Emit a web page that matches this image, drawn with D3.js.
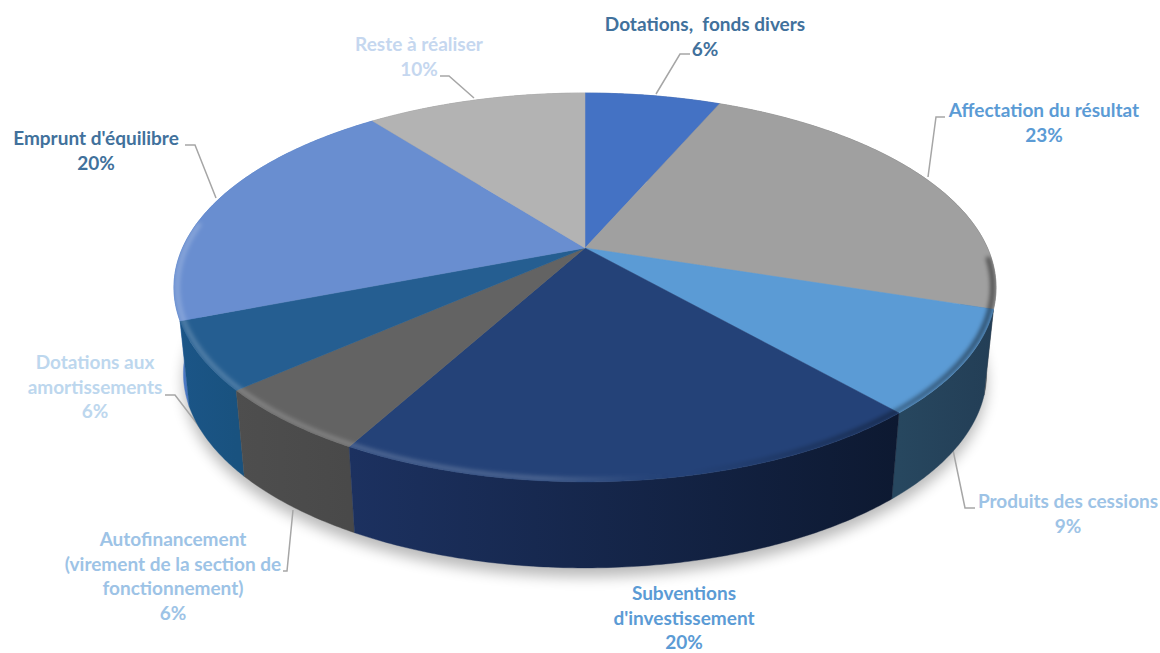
<!DOCTYPE html>
<html><head><meta charset="utf-8">
<script src="https://cdn.jsdelivr.net/npm/d3@7"></script>
<style>html,body{margin:0;padding:0;background:#fff}svg{display:block}</style>
</head><body><div id="c"></div>
<script>
// Data (slices start at 12 o'clock, clockwise)
const categories = [
  ["Dotations,  fonds divers"],
  ["Affectation du résultat"],
  ["Produits des cessions"],
  ["Subventions", "d'investissement"],
  ["Autofinancement", "(virement de la section de", "fonctionnement)"],
  ["Dotations aux", "amortissements"],
  ["Emprunt d'équilibre"],
  ["Reste à réaliser"]
];
const values = [6.49, 23.49, 8.52, 19.5, 5.5, 5.6, 20.41, 10.49];
const shownPercent = [6, 23, 9, 20, 6, 6, 20, 10];

// Styles
const topColors  = ["#4472c4","#a0a0a0","#5b9bd5","#244278","#636363","#255e91","#698ed0","#b3b3b3"];
const sideLeft   = ["#2f5597","#777777","#27475f","#1c3160","#4e4e4e","#1b5587","#4a78c4","#888888"];
const sideRight  = ["#2f5597","#555555","#233e56","#0d1931","#494949","#19527f","#3f6cb8","#888888"];
const textColors = ["#41719c","#5b9bd5","#9dc3e6","#5b9bd5","#9dc3e6","#bdd7ee","#41719c","#c5d7ef"];

// Label layout: [centre x, first baseline y], leader polyline
const labelAt = [[705,31],[1044,117],[1068,508],[684,600],[173,546],[95,369],[96,145],[419,51]];
const leaders = [
  [[690,54],[680,54],[656,94]],
  [[945,117],[936,117],[928,177]],
  [[975,508],[965,508],[953,450]],
  null,
  [[293,510],[287,571],[283,571]],
  [[165,395],[175,395],[211,442]],
  [[185,145],[195,145],[216,198]],
  [[440,76],[449,76],[474,98]]
];

const W = 1160, H = 653;
const cx = 585, R = 402.5, persp = -0.203, yScale = 136.1, cy = 248;
const depth = 86, shrink = 0.977, lineH = 24.6;

// circle -> screen through a perspective mapping
function proj(a, r = 1) {
  const u = Math.sin(a) * r, v = -Math.cos(a) * r, d = 1 + persp * v;
  return [cx + R * u / d, (yScale * v + cy) / d];
}
function projBottom(a) {
  const p = proj(a);
  return [cx + shrink * (p[0] - cx), p[1] + depth];
}
const pie = d3.pie().sort(null).value(d => d)(values);
const line = d3.line();
const samples = (a0, a1, step = 0.01) => {
  const n = Math.max(2, Math.ceil((a1 - a0) / step));
  return d3.range(n + 1).map(i => a0 + (a1 - a0) * i / n);
};
const TAU = Math.PI * 2;

const svg = d3.select("#c").append("svg").attr("width", W).attr("height", H).attr("viewBox", `0 0 ${W} ${H}`);
const defs = svg.append("defs");
const blur = (id, s) => defs.append("filter").attr("id", id)
  .attr("x", "-10%").attr("y", "-20%").attr("width", "120%").attr("height", "140%")
  .append("feGaussianBlur").attr("stdDeviation", s);
blur("bShadow", 7); blur("bBevel", 2);

svg.append("rect").attr("width", W).attr("height", H).attr("fill", "#fff");

const all = samples(0, TAU);
// cast shadow
svg.append("path")
  .attr("d", line(all.map(a => { const p = projBottom(a); return [p[0], p[1] + 9]; })) + "Z")
  .attr("fill", "#000").attr("opacity", 0.27).attr("filter", "url(#bShadow)");

// leader lines (the pie body sits over their far ends)
svg.append("g").selectAll("path").data(leaders.filter(Boolean)).join("path")
  .attr("d", d => line(d)).attr("fill", "none").attr("stroke", "#a6a6a6").attr("stroke-width", 1.5);

// side walls
const order = d3.range(pie.length).sort((a, b) =>
  proj((pie[a].startAngle + pie[a].endAngle) / 2)[1] - proj((pie[b].startAngle + pie[b].endAngle) / 2)[1]);
order.forEach(i => {
  const s = pie[i], as = samples(s.startAngle, s.endAngle);
  const top = as.map(a => proj(a)), bot = as.map(a => projBottom(a)).reverse();
  const xs = top.map(p => p[0]);
  const gid = "side" + i;
  const g = defs.append("linearGradient").attr("id", gid).attr("gradientUnits", "userSpaceOnUse")
    .attr("x1", d3.min(xs)).attr("x2", d3.max(xs)).attr("y1", 0).attr("y2", 0);
  g.append("stop").attr("offset", 0).attr("stop-color", sideLeft[i]);
  g.append("stop").attr("offset", 1).attr("stop-color", sideRight[i]);
  svg.append("path").attr("class", "side").attr("d", line(top.concat(bot)) + "Z")
    .attr("fill", `url(#${gid})`).attr("stroke", `url(#${gid})`).attr("stroke-width", 0.4);
});

// top faces
pie.forEach((s, i) => {
  const pts = [proj(0, 0)].concat(samples(s.startAngle, s.endAngle).map(a => proj(a)));
  svg.append("path").attr("class", "slice").attr("d", line(pts) + "Z")
    .attr("fill", topColors[i]).attr("stroke", topColors[i]).attr("stroke-width", 0.5);
});

// bevel along the front rim
const clip = defs.append("clipPath").attr("id", "topClip");
clip.append("path").attr("d", line(all.map(a => proj(a))) + "Z");
const lg = defs.append("linearGradient").attr("id", "bevelLight").attr("gradientUnits", "userSpaceOnUse")
  .attr("x1", 170).attr("x2", 1000).attr("y1", 0).attr("y2", 0);
[[0,"#fff",.22],[.45,"#fff",.2],[.56,"#fff",.03],[.62,"#000",.0],[.85,"#000",.35],[1,"#000",.55]].forEach(d =>
  lg.append("stop").attr("offset", d[0]).attr("stop-color", d[1]).attr("stop-opacity", d[2]));
const front = samples(1.62, 4.85);
const bevelG = svg.append("g").attr("clip-path", "url(#topClip)");
bevelG.append("path").attr("d", line(front.map(a => proj(a, 0.992))))
  .attr("fill", "none").attr("stroke", "url(#bevelLight)").attr("stroke-width", 4.5).attr("filter", "url(#bBevel)");

// labels
const labels = svg.append("g").attr("font-family", "Lato, 'Open Sans', sans-serif")
  .attr("font-weight", 700).attr("font-size", 19).attr("text-anchor", "middle");
categories.forEach((lines, i) => {
  lines.concat([shownPercent[i] + "%"]).forEach((t, k) => {
    labels.append("text").attr("x", labelAt[i][0]).attr("y", labelAt[i][1] + k * lineH)
      .attr("fill", textColors[i]).style("white-space", "pre").text(t);
  });
});
</script></body></html>
